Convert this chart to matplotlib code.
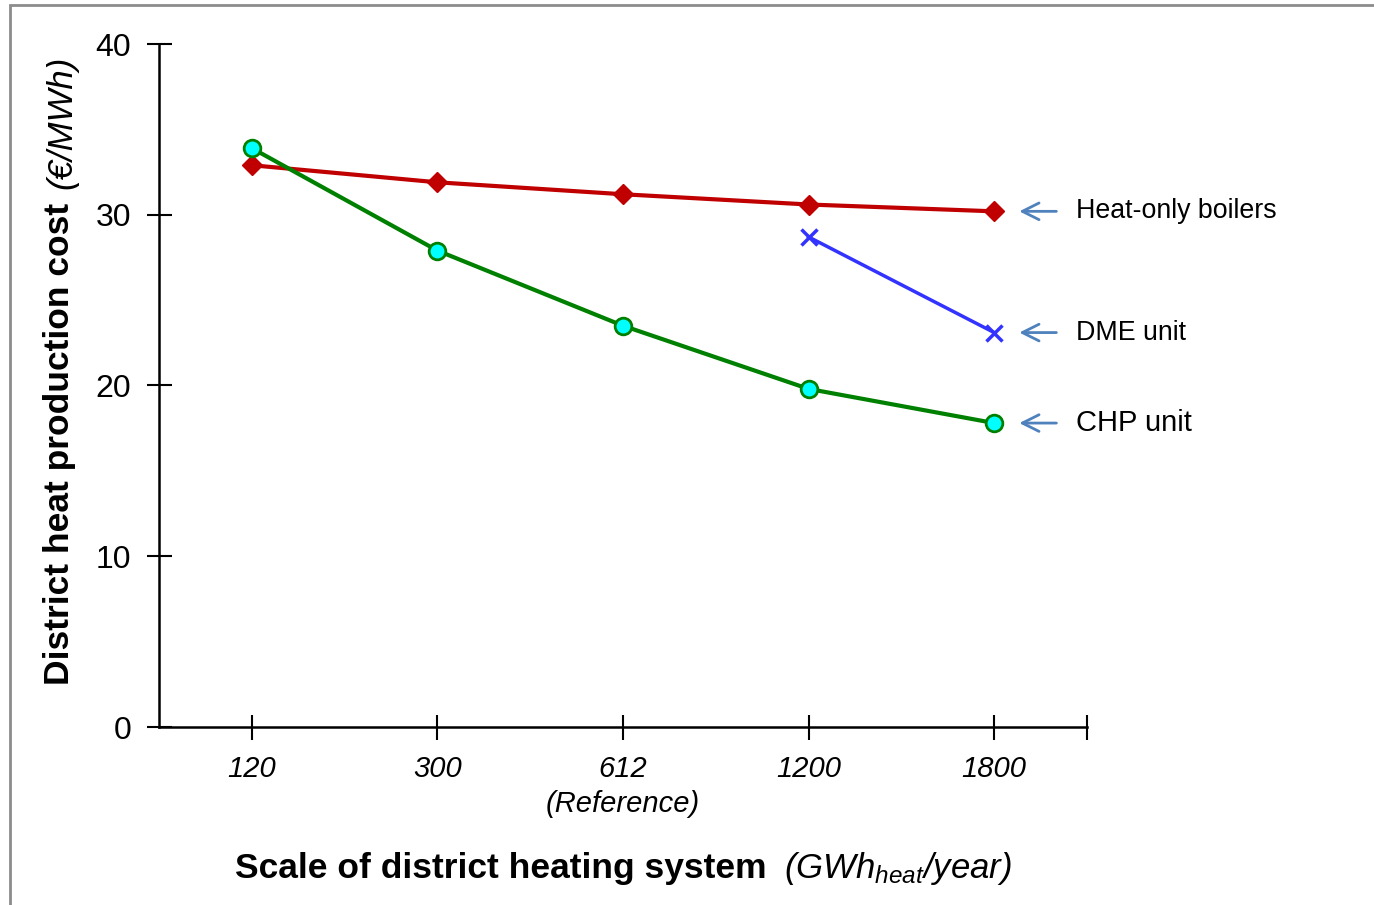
import matplotlib
matplotlib.use("Agg")
import matplotlib.pyplot as plt
from matplotlib.patches import Rectangle

plt.rcParams['font.family'] = ['Liberation Sans', 'DejaVu Sans']
plt.rcParams['mathtext.fontset'] = 'custom'
plt.rcParams['mathtext.it'] = 'Liberation Sans:italic'
plt.rcParams['mathtext.rm'] = 'Liberation Sans:italic'

# data
scale_labels = ['120', '300', '612\n(Reference)', '1200', '1800']
heat_only = [32.9, 31.9, 31.2, 30.6, 30.2]
chp_unit = [33.9, 27.9, 23.5, 19.8, 17.8]
dme_pos = [3, 4]
dme_unit = [28.7, 23.1]
series_names = ['Heat-only boilers', 'DME unit', 'CHP unit']

fig = plt.figure(figsize=(13.74, 9.05), dpi=100)
ax = fig.add_axes([159/1374, 1-727/905, (1087-159)/1374, (727-44)/905])

x = list(range(len(scale_labels)))
ax.plot(x, heat_only, color='#C00000', lw=3, marker='D', ms=10,
        mfc='#C00000', mec='#C00000', zorder=3)
ax.plot(x, chp_unit, color='#008000', lw=3, marker='o', ms=12,
        mfc='#00FFFF', mec='#008000', mew=2, zorder=4)
ax.plot(dme_pos, dme_unit, color='#3333FF', lw=2.5, marker='x', ms=11,
        mew=2.5, zorder=5)

ax.set_xlim(-0.5, 4.5)
ax.set_ylim(0, 40)
ax.set_yticks([0, 10, 20, 30, 40])
ax.set_xticks(x + [4.5])
ax.set_xticklabels(scale_labels + [''], fontstyle='italic', fontsize=21,
                   linespacing=1.35)
ax.tick_params(axis='y', labelsize=23, direction='inout', length=18,
               width=1.5, pad=11)
ax.tick_params(axis='x', direction='inout', length=18, width=1.5, pad=11)
for s in ['top', 'right']:
    ax.spines[s].set_visible(False)
for s in ['left', 'bottom']:
    ax.spines[s].set_linewidth(1.8)

# labels at the line ends
last_vals = [heat_only[-1], dme_unit[-1], chp_unit[-1]]
sizes = [19.3, 19.3, 21]
for name, v, fs in zip(series_names, last_vals, sizes):
    ax.annotate('', xy=(4.12, v), xytext=(4.35, v),
                arrowprops=dict(arrowstyle='->', color='#4F81BD', lw=2,
                                mutation_scale=30),
                annotation_clip=False)
    ax.text(4.44, v, name, fontsize=fs, va='center', ha='left', clip_on=False)

# axis titles
fig.text(60/1374, 1-685/905, 'District heat production cost', rotation=90,
         fontsize=25.5, fontweight='bold', ha='center', va='bottom')
fig.text(62/1374, 1-56/905, '(€/MWh)', rotation=90, fontsize=25,
         fontstyle='italic', ha='center', va='top')
fig.text(235/1374, 1-878/905, 'Scale of district heating system',
         fontsize=25.5, fontweight='bold', ha='left', va='baseline')
fig.text(784/1374, 1-878/905, r'$\mathit{(GWh_{heat}/year)}$',
         fontsize=25, ha='left', va='baseline')

# grey frame
fig.add_artist(Rectangle((9.5/1374, -0.1), 2, 1.1 - 5.5/905,
                         transform=fig.transFigure, fill=False,
                         edgecolor='#8C8C8C', lw=2))

fig.savefig('out.png', dpi=100)
